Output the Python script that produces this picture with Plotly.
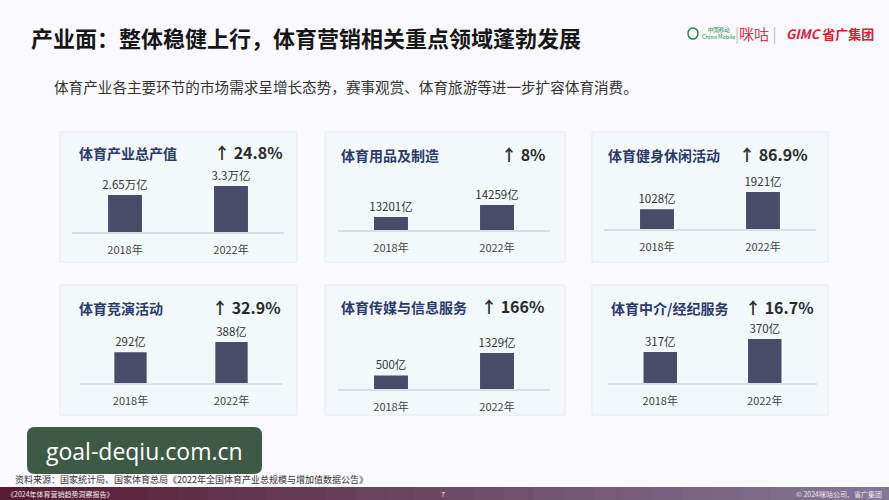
import plotly.graph_objects as go

# ---------------- data ----------------
panel_titles = ["体育产业总产值", "体育用品及制造", "体育健身休闲活动",
                "体育竞演活动", "体育传媒与信息服务", "体育中介/经纪服务"]
years = ["2018年", "2022年"]
values_2018 = [2.65, 13201, 1028, 292, 500, 317]
values_2022 = [3.3, 14259, 1921, 388, 1329, 370]
units = ["万亿", "亿", "亿", "亿", "亿", "亿"]
growth = ["24.8%", "8%", "86.9%", "32.9%", "166%", "16.7%"]

main_title = "产业面：整体稳健上行，体育营销相关重点领域蓬勃发展"
subtitle = "体育产业各主要环节的市场需求呈增长态势，赛事观赏、体育旅游等进一步扩容体育消费。"
source = "资料来源：国家统计局、国家体育总局《2022年全国体育产业总规模与增加值数据公告》"
footer_left = "《2024年体育营销趋势洞察报告》"
footer_mid = "7"
footer_right = "© 2024咪咕公司、省广集团"
watermark = "goal-deqiu.com.cn"

# ---------------- layout config (pixels) ----------------
W, H = 889, 500
FONT = "Noto Sans CJK SC"
panels = [
    dict(x=(72, 284), base=232, yr=(0, 4.3), box=(60, 132, 297, 262), tx=77, px=285, ty=153),
    dict(x=(338, 550), base=230, yr=(12050, 17350), box=(325, 132, 565, 262), tx=339, px=547, ty=155),
    dict(x=(604, 816), base=229, yr=(0, 3115), box=(592, 132, 828, 262), tx=606, px=810, ty=155),
    dict(x=(80, 282), base=383, yr=(0, 568), box=(60, 285, 297, 415), tx=77, px=283, ty=308),
    dict(x=(338, 550), base=389, yr=(0, 2215), box=(325, 285, 565, 415), tx=339, px=546, ty=307),
    dict(x=(608, 817), base=383, yr=(190, 435.5), box=(592, 285, 828, 415), tx=609, px=816, ty=308),
]
AX_H = 60


def px(x):
    return x / W


def py(y):
    return 1 - y / H


fig = go.Figure()
shapes = []
annotations = []
layout_axes = {}

for i, p in enumerate(panels):
    n = i + 1
    xa = "x" if n == 1 else f"x{n}"
    ya = "y" if n == 1 else f"y{n}"
    vals = [values_2018[i], values_2022[i]]
    texts = [f"{v:g}{units[i]}" for v in vals]
    fig.add_trace(go.Bar(
        x=years, y=vals, text=texts, textposition="outside", constraintext="none",
        textfont=dict(size=11.5, color="#333333", family=FONT),
        marker=dict(color="#4a4b69", line=dict(width=0)),
        width=0.32, cliponaxis=False, xaxis=xa, yaxis=ya,
        hoverinfo="skip",
    ))
    layout_axes["xaxis" if n == 1 else f"xaxis{n}"] = dict(
        domain=[px(p["x"][0]), px(p["x"][1])], anchor=ya, type="category",
        showline=True, linecolor="#d9dfe6", linewidth=1.5, showgrid=False,
        ticks="outside", ticklen=7, tickcolor="rgba(0,0,0,0)",
        tickfont=dict(size=11, color="#444444", family=FONT),
        range=[-0.5, 1.5], fixedrange=True, zeroline=False,
    )
    layout_axes["yaxis" if n == 1 else f"yaxis{n}"] = dict(
        domain=[py(p["base"]), py(p["base"] - AX_H)], anchor=xa,
        range=list(p["yr"]), visible=False, fixedrange=True,
    )
    bx0, by0, bx1, by1 = p["box"]
    shapes.append(dict(type="rect", xref="paper", yref="paper",
                       x0=px(bx0), x1=px(bx1), y0=py(by1), y1=py(by0),
                       fillcolor="#f3f8fb", line=dict(color="#e4eaf0", width=1),
                       layer="below"))
    annotations.append(dict(x=px(p["tx"]), y=py(p["ty"]), xref="paper", yref="paper",
                            xanchor="left", yanchor="middle", showarrow=False,
                            text=f"<b>{panel_titles[i]}</b>",
                            font=dict(size=14, color="#2a3b6b", family=FONT)))
    annotations.append(dict(x=px(p["px"]), y=py(p["ty"] - 1), xref="paper", yref="paper",
                            xanchor="right", yanchor="middle", showarrow=False,
                            text=f"<b>↑ {growth[i]}</b>",
                            font=dict(size=16, color="#2b2b2b", family=FONT)))

annotations += [
    dict(x=px(29), y=py(37), xref="paper", yref="paper", xanchor="left", yanchor="middle",
         showarrow=False, text=f"<b>{main_title}</b>",
         font=dict(size=22, color="#161616", family=FONT)),
    dict(x=px(52), y=py(87), xref="paper", yref="paper", xanchor="left", yanchor="middle",
         showarrow=False, text=subtitle, font=dict(size=14.6, color="#333333", family=FONT)),
    dict(x=px(13), y=py(479), xref="paper", yref="paper", xanchor="left", yanchor="middle",
         showarrow=False, text=source, font=dict(size=9, color="#333333", family=FONT)),
    dict(x=px(700), y=py(33), xref="paper", yref="paper", xanchor="left", yanchor="middle",
         showarrow=False, text="中国移动<br>China Mobile",
         font=dict(size=5.5, color="#1f8a4c", family=FONT)),
    dict(x=px(733), y=py(33), xref="paper", yref="paper", xanchor="left", yanchor="middle",
         showarrow=False, text="<span style='color:#bbbbbb'>|</span>咪咕<span style='color:#bbbbbb'> |</span>",
         font=dict(size=15, color="#e0334f", family=FONT)),
    dict(x=px(876), y=py(33), xref="paper", yref="paper", xanchor="right", yanchor="middle",
         showarrow=False, text="<b><i>GIMC</i> 省广集团</b>",
         font=dict(size=13, color="#d6203a", family=FONT)),
    dict(x=px(144), y=py(451), xref="paper", yref="paper", xanchor="center", yanchor="middle",
         showarrow=False, text=watermark,
         font=dict(size=23, color="#ffffff", family="Open Sans")),
    dict(x=px(5), y=py(493.5), xref="paper", yref="paper", xanchor="left", yanchor="middle",
         showarrow=False, text=footer_left, font=dict(size=7, color="#f2e6ea", family=FONT)),
    dict(x=px(443), y=py(493.5), xref="paper", yref="paper", xanchor="center", yanchor="middle",
         showarrow=False, text=footer_mid, font=dict(size=7, color="#f2e6ea", family=FONT)),
    dict(x=px(884), y=py(493.5), xref="paper", yref="paper", xanchor="right", yanchor="middle",
         showarrow=False, text=footer_right, font=dict(size=7, color="#f2e6ea", family=FONT)),
]

shapes.append(dict(type="circle", xref="paper", yref="paper",
                   x0=px(688), x1=px(698), y0=py(39), y1=py(28),
                   line=dict(color="#1f8a4c", width=1.5), fillcolor="rgba(0,0,0,0)"))

x0, y0, x1, y1, r = 27, 427, 262, 474, 8
path = (f"M {px(x0 + r)} {py(y0)} L {px(x1 - r)} {py(y0)} "
        f"Q {px(x1)} {py(y0)} {px(x1)} {py(y0 + r)} L {px(x1)} {py(y1 - r)} "
        f"Q {px(x1)} {py(y1)} {px(x1 - r)} {py(y1)} L {px(x0 + r)} {py(y1)} "
        f"Q {px(x0)} {py(y1)} {px(x0)} {py(y1 - r)} L {px(x0)} {py(y0 + r)} "
        f"Q {px(x0)} {py(y0)} {px(x0 + r)} {py(y0)} Z")
shapes.append(dict(type="path", xref="paper", yref="paper", path=path,
                   fillcolor="#3e5a47", line=dict(width=0), layer="below"))

n_steps = 30
c0 = (88, 28, 50)
c1 = (130, 120, 150)
for k in range(n_steps):
    t = k / (n_steps - 1)
    col = tuple(int(c0[j] + (c1[j] - c0[j]) * t) for j in range(3))
    shapes.append(dict(type="rect", xref="paper", yref="paper",
                       x0=k / n_steps, x1=(k + 1) / n_steps + 0.002,
                       y0=0, y1=py(487), fillcolor=f"rgb{col}",
                       line=dict(width=0), layer="below"))

fig.update_layout(
    width=W, height=H, margin=dict(l=0, r=0, t=0, b=0),
    paper_bgcolor="#faf9fd", plot_bgcolor="rgba(0,0,0,0)",
    showlegend=False, shapes=shapes, annotations=annotations,
    font=dict(family=FONT), bargap=0.5,
    **layout_axes,
)

fig.write_html("out.html", config={"displayModeBar": False},
               post_script="document.body.style.margin='0';document.body.style.overflow='hidden';")
